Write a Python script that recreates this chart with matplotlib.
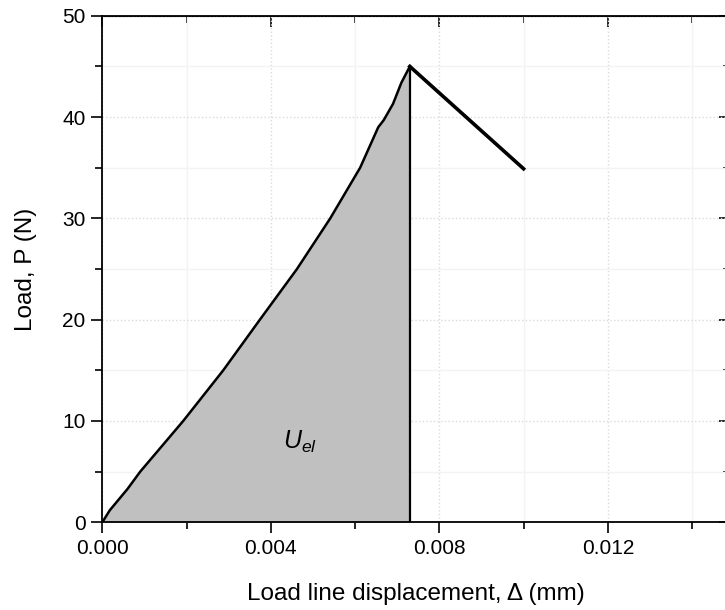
import numpy as np
import matplotlib
matplotlib.use("Agg")
import matplotlib.pyplot as plt
from matplotlib.ticker import MultipleLocator

plt.rcParams['font.family'] = ['Liberation Sans', 'DejaVu Sans']
plt.rcParams['mathtext.fontset'] = 'custom'
plt.rcParams['mathtext.it'] = 'Liberation Sans:italic'
plt.rcParams['mathtext.rm'] = 'Liberation Sans'

# loading curve up to peak (mm, N)
disp = [0.0, 0.00018, 0.00060, 0.00090, 0.00192, 0.00287, 0.00374,
        0.00462, 0.00541, 0.00612, 0.00655, 0.00668, 0.00690, 0.00710, 0.00730]
load = [0.0, 1.2, 3.3, 5.0, 10.0, 15.0, 20.0,
        25.0, 30.0, 35.0, 39.0, 39.7, 41.3, 43.4, 45.0]

# post-peak drop
drop_disp = [0.00730, 0.01000]
drop_load = [45.0, 34.9]

fig = plt.figure(figsize=(7.25, 6.1), dpi=100)
W, H = 725, 610
# axes placed in pixel terms (right spine sits just past the image edge)
left, right, bottom, top = 102.3, 730, 522.3, 15.8
ax = fig.add_axes([left / W, 1 - bottom / H, (right - left) / W, (bottom - top) / H])

ax.fill_between(disp, load, 0, color='#c0c0c0', linewidth=0, zorder=1)
ax.plot(disp, load, color='black', linewidth=1.8, zorder=3)
ax.plot([disp[-1], disp[-1]], [0, load[-1]], color='black', linewidth=1.6, zorder=3)
ax.plot(drop_disp, drop_load, color='black', linewidth=2.6, zorder=3)

ax.text(0.00469, 7.9, r'$U_{el}$', fontsize=18, ha='center', va='center', zorder=4)

ax.set_xlim(0, 0.0149)
ax.set_ylim(0, 50)
ax.xaxis.set_major_locator(MultipleLocator(0.004))
ax.xaxis.set_minor_locator(MultipleLocator(0.002))
ax.yaxis.set_major_locator(MultipleLocator(10))
ax.yaxis.set_minor_locator(MultipleLocator(5))
ax.xaxis.set_major_formatter(lambda v, p: f'{v:.3f}')

# grid: dotted at majors, very faint at minors
ax.grid(which='major', color='#dadada', linestyle=':', linewidth=1.0, zorder=0)
ax.grid(which='minor', color='#f3f3f3', linestyle='-', linewidth=1.0, zorder=0)
ax.set_axisbelow(True)

ax.tick_params(which='both', direction='out', top=False, right=False, width=1.2,
               labelsize=15, colors='black')
ax.tick_params(which='major', length=8, pad=4)
ax.tick_params(which='minor', length=5)

# inward ticks on top and right
ax2 = ax.secondary_xaxis('top')
ax2.xaxis.set_major_locator(MultipleLocator(0.004))
ax2.xaxis.set_minor_locator(MultipleLocator(0.002))
ax2.tick_params(which='both', direction='in', labeltop=False, width=1.2)
ax2.tick_params(which='major', length=8)
ax2.tick_params(which='minor', length=5)
ax3 = ax.secondary_yaxis('right')
ax3.yaxis.set_major_locator(MultipleLocator(10))
ax3.yaxis.set_minor_locator(MultipleLocator(5))
ax3.tick_params(which='both', direction='in', labelright=False, width=1.2)
ax3.tick_params(which='major', length=8)
ax3.tick_params(which='minor', length=5)

for sp in ax.spines.values():
    sp.set_linewidth(1.3)

ax.set_xlabel('Load line displacement, \u0394 (mm)', fontsize=17.5, labelpad=18)
ax.set_ylabel('Load, P (N)', fontsize=17.5, labelpad=18)

fig.savefig('out.png', dpi=100)
